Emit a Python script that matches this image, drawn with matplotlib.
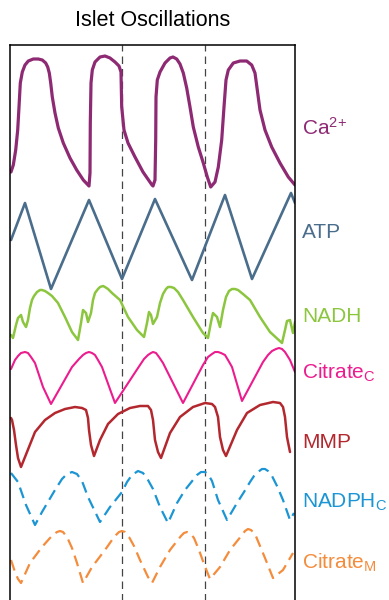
import matplotlib
matplotlib.use("Agg")
import matplotlib.pyplot as plt

plt.rcParams["font.family"] = ["Liberation Sans", "DejaVu Sans"]
plt.rcParams["mathtext.default"] = "regular"

# traces: time (x) and level (y, screen units, down = larger)
ca_t = [11, 13.3, 15.7, 17.7, 19, 20.3, 22.3, 25, 28.3, 33.3, 38.3, 42.3, 45.7,
        47.7, 49.3, 50.7, 52.3, 55, 58.3, 63.3, 70, 76.7, 83.3, 89,
        90, 90.3, 91, 92.3, 95, 100, 105, 110, 115, 119, 121, 121.7, 124, 128,
        135, 143, 152,
        153, 155, 155.7, 156, 157.3, 160, 165, 170, 173, 176.7, 180, 183.3,
        186.7, 190, 193.3, 198.3, 203.3, 207.3, 210.7,
        215, 218.3, 221.7, 224, 226, 228.3, 233.3, 240, 246.7, 251.7, 255,
        257.3, 260, 265, 271.7, 280, 288.3, 295]
ca_y = [172, 165, 150, 130, 107, 83, 72, 65, 61, 59, 59, 60, 63,
        67, 73, 83, 97, 113, 128, 143, 158, 170, 180, 186,
        173, 123, 83, 70, 62, 57, 56, 58, 62, 66, 72, 107, 130, 143,
        157, 172, 185,
        186, 180, 140, 97, 80, 72, 63, 58, 57, 59, 64, 73,
        88, 107, 127, 147, 163, 177, 187,
        182, 167, 140, 107, 80, 70, 63, 61, 61, 65, 73,
        90, 110, 130, 147, 163, 177, 185]

atp_t = [11, 25, 51, 89, 122, 155, 192, 225, 252, 291, 295]
atp_y = [240, 203, 289, 200, 279, 199, 280, 195, 279, 193, 203]

nadh_t = [11, 13, 16, 18, 21, 23, 26, 28, 30, 32, 34, 37, 40, 42, 45, 48, 52,
          58, 65, 72, 78, 81, 83, 86, 88, 91, 93, 95, 98, 100, 103, 105, 108,
          112, 120, 128, 137, 144, 147, 149, 151, 153, 157, 160, 163, 166, 168,
          171, 174, 178, 183, 193, 203, 208, 211, 213, 217, 220, 223, 226, 229,
          232, 235, 238, 243, 250, 260, 270, 282, 285, 287, 290, 293, 295]
nadh_y = [335, 338, 325, 318, 315, 322, 327, 320, 308, 300, 296, 292, 290, 290,
          291, 293, 296, 303, 317, 332, 340, 323, 310, 313, 322, 313, 300, 293,
          289, 287, 286, 287, 289, 293, 300, 317, 330, 337, 323, 312, 315, 324,
          317, 303, 294, 289, 287, 287, 288, 292, 300, 317, 333, 338, 322, 313,
          317, 327, 310, 297, 291, 289, 289, 290, 294, 300, 317, 332, 343, 330,
          321, 320, 333, 322]

citc_t = [11, 15, 18, 21, 25, 28, 31, 35, 43, 51, 72, 79, 83, 86, 89, 92, 95,
          98, 102, 115, 138, 144, 148, 151, 153, 156, 159, 163, 183, 203, 208,
          212, 215, 218, 221, 225, 228, 232, 242, 263, 268, 272, 276, 279, 282,
          285, 290, 295]
citc_y = [369, 360, 356, 353, 352, 353, 357, 363, 387, 404, 367, 359, 355, 353,
          352, 353, 355, 360, 367, 403, 368, 359, 355, 353, 352, 353, 357, 363,
          403, 365, 357, 354, 352, 352, 353, 355, 360, 367, 401, 362, 355, 351,
          349, 348, 349, 352, 360, 372]

mmp_t = [11, 12, 14, 16, 18, 21, 27, 35, 45, 55, 65, 75, 82, 86, 88, 89, 91,
         94, 100, 108, 118, 130, 140, 148, 151, 153, 155, 158, 161, 170, 180,
         193, 205, 212, 215, 218, 220, 223, 226, 237, 247, 260, 273, 280, 283,
         285, 287, 290]
mmp_y = [418, 420, 430, 445, 458, 467, 452, 432, 420, 413, 409, 407, 408, 410,
         418, 430, 445, 456, 440, 424, 414, 408, 406, 406, 410, 420, 440, 452,
         458, 433, 417, 407, 403, 404, 407, 417, 437, 450, 456, 430, 413, 405,
         402, 403, 407, 417, 437, 452]

nadph_t = [11, 18, 26, 35, 42, 55, 62, 67, 72, 77, 82, 88, 100, 110, 122, 127,
           132, 138, 143, 148, 153, 160, 168, 177, 185, 193, 197, 201, 205, 208,
           212, 218, 227, 237, 244, 250, 254, 258, 262, 265, 268, 272, 277, 283,
           290, 294]
nadph_y = [473, 482, 505, 525, 512, 490, 479, 474, 472, 474, 481, 497, 522, 507,
           492, 482, 475, 471, 473, 480, 489, 507, 523, 503, 490, 480, 475, 472,
           472, 474, 481, 500, 520, 503, 492, 482, 476, 472, 469, 469, 471, 476,
           486, 500, 520, 513]

citm_t = [11, 15, 18, 21, 30, 42, 50, 54, 57, 60, 63, 67, 72, 77, 83, 92, 105,
          112, 116, 119, 122, 125, 129, 134, 140, 148, 152, 160, 170, 177, 181,
          184, 187, 190, 194, 199, 204, 210, 220, 230, 238, 242, 245, 248, 251,
          255, 260, 265, 273, 283, 293]
citm_y = [560, 572, 579, 583, 563, 547, 538, 534, 532, 531, 532, 537, 548, 563,
          583, 567, 550, 540, 535, 532, 531, 532, 537, 546, 560, 577, 583, 567,
          550, 541, 536, 533, 532, 533, 538, 550, 564, 579, 567, 550, 540, 535,
          531, 529, 530, 534, 546, 558, 578, 570, 553]

marker_t = [122, 205]

labels = ["Ca$^{2{+}}$", "ATP", "NADH", "Citrate$_{C}$", "MMP", "NADPH$_{C}$", "Citrate$_{M}$"]
label_y = [128, 232, 316, 373, 443, 502, 563]
colors = ["#8E2A73", "#4A6D8C", "#8CC63F", "#EC1C8E", "#B3282E", "#1B95D3", "#F48C3C"]

fig = plt.figure(figsize=(3.89, 6.0), dpi=100)
ax = fig.add_axes([10 / 389, -0.02, 285 / 389, 0.945])
ax.set_xlim(10, 295)
ax.set_ylim(612, 45)

for t in marker_t:
    ax.axvline(t, color="#444444", lw=0.9, linestyle=(0, (6, 4)), zorder=1)

traces = [(ca_t, ca_y, 2.3, "-"), (atp_t, atp_y, 1.9, "-"), (nadh_t, nadh_y, 1.8, "-"),
          (citc_t, citc_y, 1.5, "-"), (mmp_t, mmp_y, 1.8, "-"),
          (nadph_t, nadph_y, 1.6, (0, (5, 2.8))), (citm_t, citm_y, 1.6, (0, (5, 2.8)))]
for (t, y, lw, ls), c in zip(traces, colors):
    ax.plot(t, y, color=c, lw=lw, linestyle=ls, solid_joinstyle="round",
            solid_capstyle="round", zorder=2)

for lab, ly, c in zip(labels, label_y, colors):
    ax.text(1.025, ly, lab, color=c, fontsize=15, va="center", ha="left",
            transform=ax.get_yaxis_transform())

ax.set_xticks([])
ax.set_yticks([])
ax.spines["bottom"].set_visible(False)
for s in ["left", "right", "top"]:
    ax.spines[s].set_linewidth(1.1)

fig.text(153 / 389, 1 - 21 / 600, "Islet Oscillations", fontsize=15.5,
         ha="center", va="center")

fig.savefig("out.png", dpi=100)
